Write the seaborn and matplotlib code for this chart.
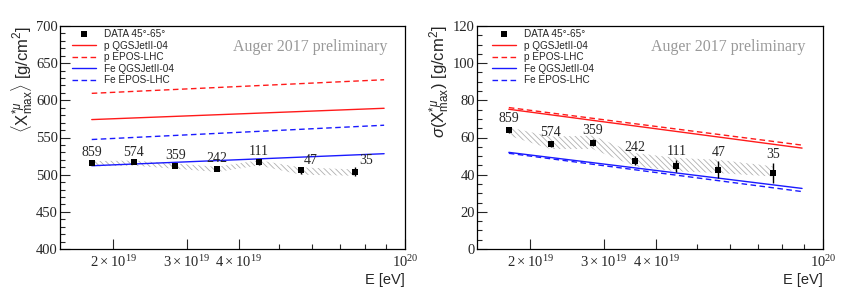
import numpy as np
import pandas as pd
import seaborn as sns
import matplotlib
matplotlib.use("Agg")
from matplotlib import pyplot as plt
from matplotlib.ticker import FixedLocator, FuncFormatter, MultipleLocator

# energy bins (log10 E/eV) and number of events per bin
log_e = [19.25, 19.35, 19.45, 19.55, 19.65, 19.75, 19.88]
n_events = [859, 574, 359, 242, 111, 47, 35]

# <X*mu_max> data
mean_val = [515.7, 516.5, 512.0, 507.6, 516.5, 505.8, 504.0]
mean_err = [2.0, 2.0, 2.5, 2.5, 3.5, 5.0, 6.0]
mean_sys_hi = [518.2, 519.0, 515.0, 510.6, 519.4, 509.8, 507.0]
mean_sys_lo = [511.2, 512.0, 508.0, 503.6, 512.4, 500.0, 498.5]

# sigma(X*mu_max) data
sigma_val = [64.1, 56.5, 57.3, 47.5, 44.5, 42.7, 40.9]
sigma_err = [1.5, 1.5, 2.0, 2.5, 3.3, 4.5, 5.4]
sigma_sys_hi = [65.5, 60.5, 61.0, 51.7, 49.0, 48.0, 44.5]
sigma_sys_lo = [61.0, 53.8, 53.8, 44.5, 41.8, 40.9, 39.0]

# model predictions (line end points)
log_e_model = [19.25, 19.95]
models = ["p QGSJetII-04", "p EPOS-LHC", "Fe QGSJetII-04", "Fe EPOS-LHC"]
mean_models = {
    "p QGSJetII-04": [574.1, 589.3],
    "p EPOS-LHC": [609.4, 627.7],
    "Fe QGSJetII-04": [512.0, 528.2],
    "Fe EPOS-LHC": [547.3, 566.5],
}
sigma_models = {
    "p QGSJetII-04": [75.2, 54.3],
    "p EPOS-LHC": [76.1, 55.9],
    "Fe QGSJetII-04": [52.0, 32.6],
    "Fe EPOS-LHC": [51.5, 30.9],
}
model_style = {
    "p QGSJetII-04": ("#ff1a1a", "-"),
    "p EPOS-LHC": ("#ff1a1a", (0, (4, 2.5))),
    "Fe QGSJetII-04": ("#1a1aff", "-"),
    "Fe EPOS-LHC": ("#1a1aff", (0, (4, 2.5))),
}

sns.set_style("ticks")
plt.rcParams["font.family"] = ["Liberation Sans", "DejaVu Sans"]
plt.rcParams["mathtext.fontset"] = "custom"
plt.rcParams["mathtext.rm"] = "Liberation Sans"
plt.rcParams["mathtext.it"] = "Liberation Sans:italic"
plt.rcParams["hatch.linewidth"] = 0.6
plt.rcParams["hatch.color"] = "#b0b0b0"

E = 10.0 ** np.array(log_e)
E_model = 10.0 ** np.array(log_e_model)


def sci_label(v, pos):
    if abs(v - 1e20) < 1e17:
        return r"$\mathregular{10^{20}}$"
    m = v / 1e19
    return r"$\mathregular{%d\times10^{19}}$" % round(m)


def panel(ax, val, err, lo, hi, model_vals, ylim, major, minor, ylabel, label_offsets, legend_x):
    df = pd.DataFrame({"E": E, "val": val})
    ax.fill_between(E, lo, hi, facecolor="none", edgecolor="#b0b0b0",
                    hatch="\\" * 6, linewidth=0, zorder=1)
    for m in models:
        dfm = pd.DataFrame({"E": E_model, "y": model_vals[m]})
        c, ls = model_style[m]
        sns.lineplot(data=dfm, x="E", y="y", ax=ax, color=c, lw=1.0,
                     linestyle=ls, label=m, legend=False, zorder=3)
    ax.errorbar(E, val, yerr=err, fmt="none", ecolor="black", elinewidth=1.0, zorder=4)
    sns.scatterplot(data=df, x="E", y="val", ax=ax, marker="s", s=22, color="black",
                    edgecolor="black", linewidth=0, label="DATA 45°-65°", legend=False, zorder=5)

    for i, n in enumerate(n_events):
        dx, dy = label_offsets.get(n, (0, 1.5))
        ax.annotate(str(n), (E[i], val[i] + err[i]), xytext=(dx, dy), textcoords="offset points",
                    ha="center", va="bottom", fontsize=10, family="Liberation Serif")

    ax.set_xscale("log")
    ax.set_xlim(10 ** 19.174, 1e20)
    ax.set_ylim(*ylim)
    ax.xaxis.set_major_locator(FixedLocator([2e19, 3e19, 4e19, 1e20]))
    ax.xaxis.set_minor_locator(FixedLocator([5e19, 6e19, 7e19, 8e19, 9e19]))
    ax.xaxis.set_major_formatter(FuncFormatter(sci_label))
    ax.xaxis.set_minor_formatter(FuncFormatter(lambda v, p: ""))
    ax.yaxis.set_major_locator(MultipleLocator(major))
    ax.yaxis.set_minor_locator(MultipleLocator(minor))
    ax.tick_params(which="both", direction="in", top=False, right=False, width=0.8)
    ax.tick_params(which="major", length=7)
    ax.tick_params(which="minor", length=3.5)
    ax.tick_params(axis="y", pad=1.5)
    ax.tick_params(axis="x", pad=4)
    for lab in ax.get_xticklabels() + ax.get_yticklabels():
        lab.set_fontfamily("Liberation Serif")
        lab.set_fontsize(10.5)
    for sp in ax.spines.values():
        sp.set_visible(True)
        sp.set_linewidth(0.9)
        sp.set_color("black")

    ax.set_xlabel("E [eV]", loc="right", fontsize=10.5, labelpad=2)
    ax.set_ylabel(ylabel, loc="top", fontsize=12, labelpad=1)

    handles, labels = ax.get_legend_handles_labels()
    order = ["DATA 45°-65°"] + models
    hd = dict(zip(labels, handles))
    ax.legend([hd[k] for k in order], order, loc="upper left", bbox_to_anchor=(legend_x, 1.0),
              frameon=False, fontsize=7.2, handlelength=2.4, handletextpad=0.8,
              labelspacing=0.16, borderpad=0.3, borderaxespad=0, markerscale=0.9)

    ax.text(0.948, 0.907, "Auger 2017 preliminary", transform=ax.transAxes, ha="right",
            va="center", fontsize=11.5, family="Liberation Serif", color="#999999")


fig = plt.figure(figsize=(8.44, 2.97), dpi=100)
ax1 = fig.add_axes([60 / 844, 48 / 297, 345 / 844, 223 / 297])
ax2 = fig.add_axes([477 / 844, 48 / 297, 346 / 844, 223 / 297])

panel(ax1, mean_val, mean_err, mean_sys_lo, mean_sys_hi, mean_models, (400, 700), 50, 10,
      r"$\langle$X$^{*\mu}_{\mathrm{max}}\rangle$ [g/cm$^{2}$]",
      {47: (7, 0), 35: (8, 0)}, 0.025)
panel(ax2, sigma_val, sigma_err, sigma_sys_lo, sigma_sys_hi, sigma_models, (0, 120), 20, 5,
      r"$\sigma$(X$^{*\mu}_{\mathrm{max}}$) [g/cm$^{2}$]",
      {}, 0.035)

fig.savefig("out.png", dpi=100)
